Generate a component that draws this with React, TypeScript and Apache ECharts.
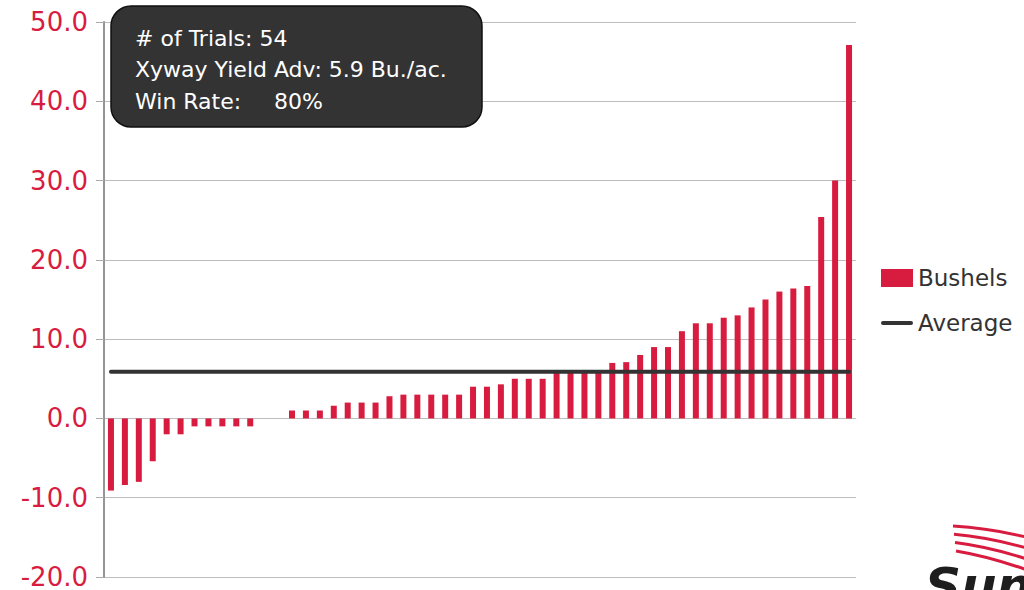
import React, { useEffect, useRef } from "react";
import * as echarts from "echarts";

const trialLabels: string[] = Array.from({ length: 54 }, (_, i) => `Trial ${i + 1}`);
const bushels: number[] = [
  -9.1, -8.4, -8.0, -5.4, -2.0, -2.0, -1.0, -1.0, -1.0, -1.0, -1.0, 0, 0,
  1.0, 1.0, 1.0, 1.6, 2.0, 2.0, 2.0, 2.8, 3.0, 3.0, 3.0, 3.0, 3.0,
  4.0, 4.0, 4.3, 5.0, 5.0, 5.0, 6.0, 6.0, 6.0, 6.0, 7.0, 7.1, 8.0, 9.0, 9.0,
  11.0, 12.0, 12.0, 12.7, 13.0, 14.0, 15.0, 16.0, 16.4, 16.7, 25.4, 30.0, 47.1,
];
const averageValue = 5.9;
const averageLine: number[] = bushels.map(() => averageValue);
const yTicks = { min: -20, max: 50, interval: 10 };
const infoLines: string[] = ["# of Trials: 54", "Xyway Yield Adv: 5.9 Bu./ac.", "Win Rate:"];
const winRateValue = "80%";

const RED = "#d81c3f";
const TEXT_FONT = "'DejaVu Sans', sans-serif";

export default function App() {
  const ref = useRef<HTMLDivElement>(null);
  useEffect(() => {
    if (!ref.current) return;
    const chart = echarts.init(ref.current, undefined, { renderer: "svg" });
    chart.setOption({
      animation: false,
      grid: { left: 104, right: 168, top: 22, bottom: 9, containLabel: false },
      legend: {
        orient: "vertical",
        left: 876,
        top: 261,
        itemWidth: 32,
        itemHeight: 18,
        itemGap: 21,
        textStyle: { fontSize: 23, color: "#333", fontFamily: TEXT_FONT, lineHeight: 24 },
        data: [
          { name: "Bushels", icon: "rect" },
          { name: "Average", icon: "path://M2,0 L30,0 A2,2 0 0 1 30,4 L2,4 A2,2 0 0 1 2,0 Z" },
        ],
      },
      xAxis: {
        type: "category",
        data: trialLabels,
        axisLine: { show: false },
        axisTick: { show: false },
        axisLabel: { show: false },
        splitLine: { show: false },
      },
      yAxis: {
        type: "value",
        min: yTicks.min,
        max: yTicks.max,
        interval: yTicks.interval,
        axisLine: { show: true, lineStyle: { color: "#959595", width: 2 } },
        axisTick: { show: true, length: 8, lineStyle: { color: "#aaa", width: 1 } },
        axisLabel: {
          formatter: (v: number) => v.toFixed(1),
          color: RED,
          fontSize: 26,
          margin: 16,
          fontFamily: "'DejaVu Sans', sans-serif",
        },
        splitLine: { show: true, lineStyle: { color: "#bdbdbd", width: 1 } },
      },
      series: [
        {
          name: "Bushels",
          type: "bar",
          data: bushels,
          barWidth: 6,
          itemStyle: { color: RED },
        },
        {
          name: "Average",
          type: "line",
          data: averageLine,
          symbol: "none",
          lineStyle: { color: "#333", width: 4, cap: "round" },
          itemStyle: { color: "#333" },
          z: 5,
        },
      ],
      graphic: [
        {
          type: "rect",
          shape: { x: 111, y: 6, width: 371, height: 121, r: 20 },
          style: { fill: "#333333", stroke: "#111", lineWidth: 1.5 },
          z: 100,
        },
        ...infoLines.map((t, i) => ({
          type: "text",
          x: 135,
          y: 38 + i * 31.5,
          style: {
            text: t,
            fill: "#ffffff",
            fontSize: 22,
            fontFamily: TEXT_FONT,
            verticalAlign: "middle",
          },
          z: 101,
        })),
        {
          type: "text",
          x: 274,
          y: 38 + 2 * 31.5,
          style: {
            text: winRateValue,
            fill: "#ffffff",
            fontSize: 22,
            fontFamily: TEXT_FONT,
            verticalAlign: "middle",
          },
          z: 101,
        },
        // logo swooshes
        ...[0, 1, 2, 3].map((i) => ({
          type: "bezierCurve",
          shape: {
            x1: 953 + i * 1,
            y1: 526 + i * 8.3,
            cpx1: 990,
            cpy1: 528 + i * 9.5,
            x2: 1030,
            y2: 538 + i * 11,
          },
          style: { stroke: RED, lineWidth: 3, fill: null },
          z: 50,
        })),
        {
          type: "text",
          x: 925,
          y: 586,
          style: {
            text: "Sun",
            fill: "#1e1e1e",
            fontSize: 50,
            fontWeight: "bold",
            fontStyle: "italic",
            fontFamily: "'DejaVu Sans', sans-serif",
            verticalAlign: "middle",
          },
          z: 50,
        },
      ],
    });
    return () => chart.dispose();
  }, []);
  return <div ref={ref} style={{ width: 1024, height: 590, position: "absolute", left: 0, top: 0 }} />;
}
